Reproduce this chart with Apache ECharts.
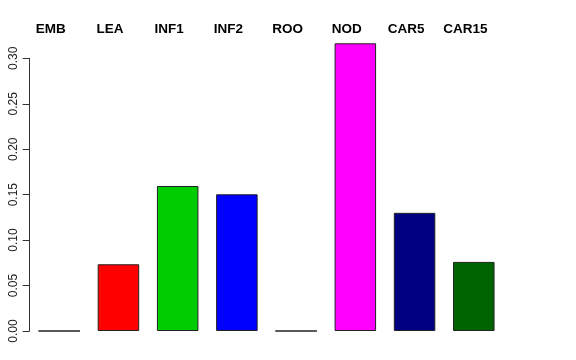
<!DOCTYPE html>
<html>
<head>
<meta charset="utf-8">
<script src="https://cdn.jsdelivr.net/npm/echarts@6/dist/echarts.min.js"></script>
<style>html,body{margin:0;padding:0;background:#fff}#c{width:576px;height:360px}</style>
</head>
<body>
<div id="c"></div>
<script>
var categories = ['EMB', 'LEA', 'INF1', 'INF2', 'ROO', 'NOD', 'CAR5', 'CAR15'];
var values = [0, 0.0734, 0.1595, 0.1504, 0, 0.3165, 0.130, 0.076];
var colors = ['#ffffff', '#ff0000', '#00cd00', '#0000ff', '#ffffff', '#ff00ff', '#000080', '#006400'];
var yTicks = [0, 0.05, 0.10, 0.15, 0.20, 0.25, 0.30];

var chart = echarts.init(document.getElementById('c'), null, {renderer: 'canvas'});
var font = 'Liberation Sans, Arial, Helvetica, sans-serif';
chart.setOption({
  animation: false,
  grid: {left: 29.6, top: 58.3, width: 473.8, bottom: 29, containLabel: false},
  xAxis: [{
    type: 'category', data: categories, position: 'bottom',
    axisLine: {show: false}, axisTick: {show: false}, axisLabel: {show: false}
  }, {
    type: 'category', data: categories, position: 'top', gridIndex: 0,
    axisLine: {show: false}, axisTick: {show: false},
    axisLabel: {show: true, color: '#000', fontFamily: font, fontWeight: 'bold', fontSize: 13.5,
      margin: 22, padding: [0, 17, 0, 0], interval: 0}
  }],
  yAxis: {
    type: 'value', min: 0, max: 0.30, interval: 0.05,
    axisLine: {show: true, lineStyle: {color: '#333', width: 1}},
    axisTick: {show: true, length: 7, lineStyle: {color: '#333'}},
    splitLine: {show: false},
    axisLabel: {rotate: 90, margin: 10, color: '#222', fontFamily: font, fontSize: 12,
      formatter: function (v) {
        for (var i = 0; i < yTicks.length; i++) { if (Math.abs(v - yTicks[i]) < 1e-9) return yTicks[i].toFixed(2); }
        return '';
      }}
  },
  series: [{
    type: 'bar', xAxisIndex: 0, clip: false,
    barWidth: 41.5,
    data: values.map(function (v, i) {
      return {value: v, itemStyle: {color: colors[i]}};
    }),
    itemStyle: {borderColor: '#222', borderWidth: 1}
  }]
});
</script>
</body>
</html>
